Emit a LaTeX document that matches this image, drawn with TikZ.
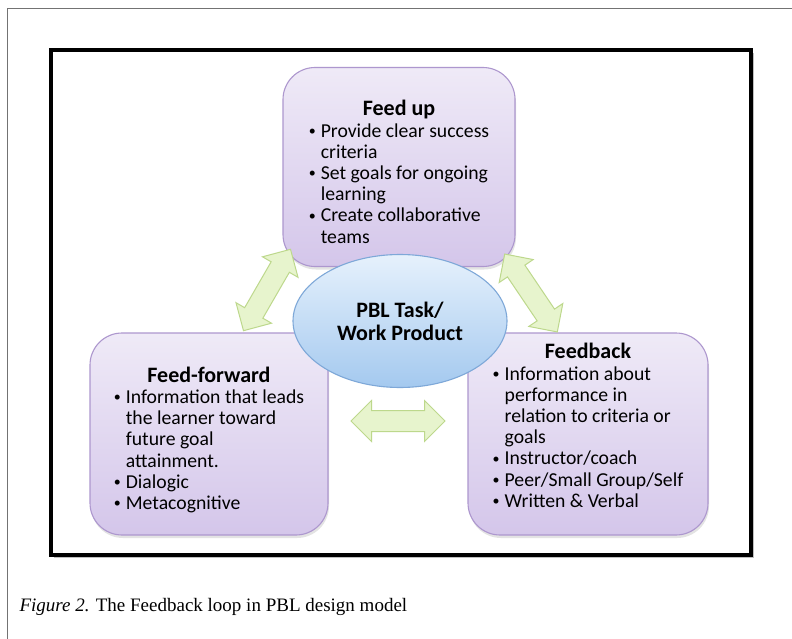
\documentclass[tikz,border=0pt]{standalone}
\usepackage{fontspec}
\setmainfont{Carlito}
\newfontfamily\capfont{Liberation Serif}
\usetikzlibrary{shapes.geometric,shapes.arrows,shadows}

\definecolor{phaseline}{HTML}{AD97CE}
\definecolor{phasetop}{HTML}{EFEAF7}
\definecolor{phasebot}{HTML}{D4C6EA}
\definecolor{taskline}{HTML}{7EA8D8}
\definecolor{tasktop}{HTML}{E6F1FC}
\definecolor{taskbot}{HTML}{A4C9EF}
\definecolor{linkline}{HTML}{BDD88C}
\definecolor{linkfill}{HTML}{E7F4CD}

\tikzset{
  phase/.style={draw=phaseline, line width=1.1pt, rounded corners=32pt,
    top color=phasetop, bottom color=phasebot, align=center,
    font=\fontsize{19.7}{21.2}\selectfont,
    drop shadow={opacity=0.22, shadow xshift=1pt, shadow yshift=-3pt}},
  task/.style={ellipse, draw=taskline, line width=1.1pt, top color=tasktop,
    bottom color=taskbot, minimum width=214pt, minimum height=133pt,
    align=center, font=\fontsize{22}{23}\selectfont\bfseries},
  link/.style={double arrow, draw=linkline, line width=1pt, fill=linkfill,
    minimum height=94pt, inner sep=10pt, double arrow head extend=10pt},
}
\newcommand{\phasetitle}[1]{{\fontsize{22}{24}\selectfont\bfseries #1}}
\newcommand{\pbull}{\raisebox{1.6pt}{\fontsize{14}{14}\selectfont\textbullet}}

\begin{document}
\begin{tikzpicture}[x=1pt, y=-1pt]
    \useasboundingbox (0, 0) rectangle (792, 639);
    \draw[black!55, line width=1pt] (7, 639) -- (7, 9) -- (792, 9);
    \draw[line width=4.5pt, fill=white, drop shadow={opacity=0.5, shadow xshift=3pt, shadow yshift=-3pt}] (51, 50) rectangle (751, 555);

    \node[phase, minimum width=232pt, minimum height=199pt] (up) at (399, 167) {\mbox{}\\[10pt]\phasetitle{Feed up}\\
        \begin{tabular}[t]{@{}l@{\hspace{5pt}}l@{}}
        \pbull & Provide clear success\\ & criteria\\
        \pbull & Set goals for ongoing\\ & learning\\
        \pbull & Create collaborative\\ & teams
        \end{tabular}};
    \node[phase, minimum width=238pt, minimum height=202pt] (ffwd) at (209, 434) {\mbox{}\\[9pt]\phasetitle{Feed-forward}\\
        \begin{tabular}[t]{@{}l@{\hspace{5pt}}l@{}}
        \pbull & Information that leads\\ & the learner toward\\ & future goal\\ & attainment.\\
        \pbull & Dialogic\\
        \pbull & Metacognitive
        \end{tabular}};
    \node[phase, minimum width=240pt, minimum height=202pt] (fback) at (588, 434) {\phasetitle{Feedback}\\
        \begin{tabular}[t]{@{}l@{\hspace{5pt}}l@{}}
        \pbull & Information about\\ & performance in\\ & relation to criteria or\\ & goals\\
        \pbull & Instructor/coach\\
        \pbull & Peer/Small Group/Self\\
        \pbull & Written \& Verbal
        \end{tabular}\\[10pt]\mbox{}};

    \node[link, rotate=60] (upff) at (267, 290) {};
    \node[link, rotate=-56] (upfb) at (531, 293) {};
    \node[link] (fffb) at (398, 421) {};

    \node[task] (pbl) at (400, 321) {PBL Task/\\Work Product};

    \node[anchor=west, font=\capfont\fontsize{19}{23}\selectfont] (cap) at (16, 607) {\textit{Figure 2.} The Feedback loop in PBL design model};
\end{tikzpicture}
\end{document}
